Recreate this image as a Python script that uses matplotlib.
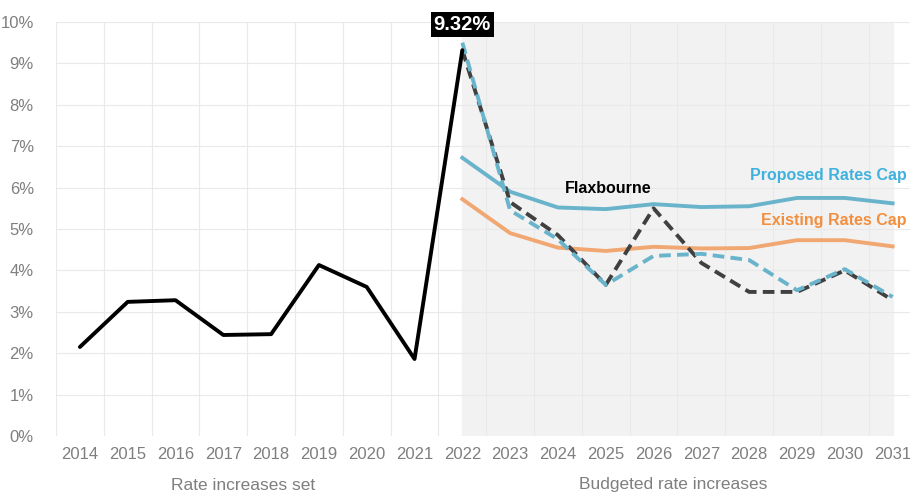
import matplotlib
matplotlib.use("Agg")
import matplotlib.pyplot as plt
from matplotlib.ticker import FuncFormatter

years = [str(y) for y in range(2014, 2032)]
hist_years = years[:9]                      # 2014..2022
budget_years = years[8:]                    # 2022..2031

flax_hist = [2.15, 3.24, 3.28, 2.44, 2.46, 4.13, 3.60, 1.86, 9.32]
flax_budget = [9.32, 5.65, 4.85, 3.65, 5.50, 4.18, 3.48, 3.48, 4.00, 3.28]
proposed_budget = [9.50, 5.45, 4.75, 3.65, 4.35, 4.40, 4.25, 3.52, 4.03, 3.36]
proposed_cap = [6.72, 5.90, 5.52, 5.48, 5.60, 5.53, 5.55, 5.75, 5.75, 5.62]
existing_cap = [5.72, 4.90, 4.55, 4.47, 4.57, 4.53, 4.54, 4.73, 4.73, 4.58]

GREY = "#7f7f7f"
BLUE = "#6ab4cb"
ORANGE = "#f1a772"

plt.rcParams["font.family"] = ["Liberation Sans Narrow", "Liberation Sans", "DejaVu Sans"]

fig = plt.figure(figsize=(9.1, 4.93), dpi=100)
ax = fig.add_axes([56 / 910, 1 - 436 / 493, 1 - 56 / 910, (436 - 22) / 493])

xi = {y: i for i, y in enumerate(years)}
hx = [xi[y] for y in hist_years]
bx = [xi[y] for y in budget_years]

ax.axvspan(bx[0], bx[-1], color="#f2f2f2", zorder=0)
for i in range(len(years) + 1):
    ax.axvline(i - 0.5, color="#e9e9e9", lw=0.8, zorder=0.5)
for v in range(0, 11):
    ax.axhline(v, color="#e9e9e9", lw=0.8, zorder=0.5)

ax.plot(bx, proposed_cap, color=BLUE, lw=2.8, zorder=3)
ax.plot(bx, existing_cap, color=ORANGE, lw=2.8, zorder=3)
ax.plot(bx, flax_budget, color="#404040", lw=2.8, ls=(0, (3, 1.6)), zorder=4)
ax.plot(bx, proposed_budget, color=BLUE, lw=2.8, ls=(0, (3, 1.6)), zorder=5)
ax.plot(hx, flax_hist, color="black", lw=2.8, zorder=6, solid_capstyle="round")

ax.text(xi["2022"], 9.93, f"{flax_hist[-1]:.2f}%", ha="center", va="center", color="white",
        fontsize=14.5, fontweight="bold", family="Liberation Sans",
        bbox=dict(boxstyle="square,pad=0.15", fc="black", ec="none"), zorder=7, clip_on=False)
ax.text(xi["2025"] + 0.05, 5.97, "Flaxbourne", ha="center", va="center", fontsize=11.5,
        fontweight="bold", family="Liberation Sans", color="black")
ax.text(17.3, 6.3, "Proposed Rates Cap", ha="right", va="center", fontsize=11.5,
        fontweight="bold", family="Liberation Sans", color="#3fb1df")
ax.text(17.3, 5.2, "Existing Rates Cap", ha="right", va="center", fontsize=11.5,
        fontweight="bold", family="Liberation Sans", color="#f28f3f")

ax.set_xlim(-0.5, (910 - 80) / 47.8)
ax.set_ylim(0, 10)
ax.set_xticks(range(len(years)))
ax.set_xticklabels(years)
ax.set_yticks(range(0, 11))
ax.yaxis.set_major_formatter(FuncFormatter(lambda v, _: f"{int(v)}%"))
ax.tick_params(axis="both", length=0, colors=GREY, labelsize=12, pad=8)
ax.tick_params(axis="y", pad=16)
for s in ax.spines.values():
    s.set_visible(False)

fig.text(243 / 910, 1 - 485 / 493, "Rate increases set", ha="center", va="center", color=GREY, fontsize=12.5)
fig.text(673 / 910, 1 - 485 / 493, "Budgeted rate increases", ha="center", va="center", color=GREY, fontsize=12.5)

fig.savefig("out.png", dpi=100)
